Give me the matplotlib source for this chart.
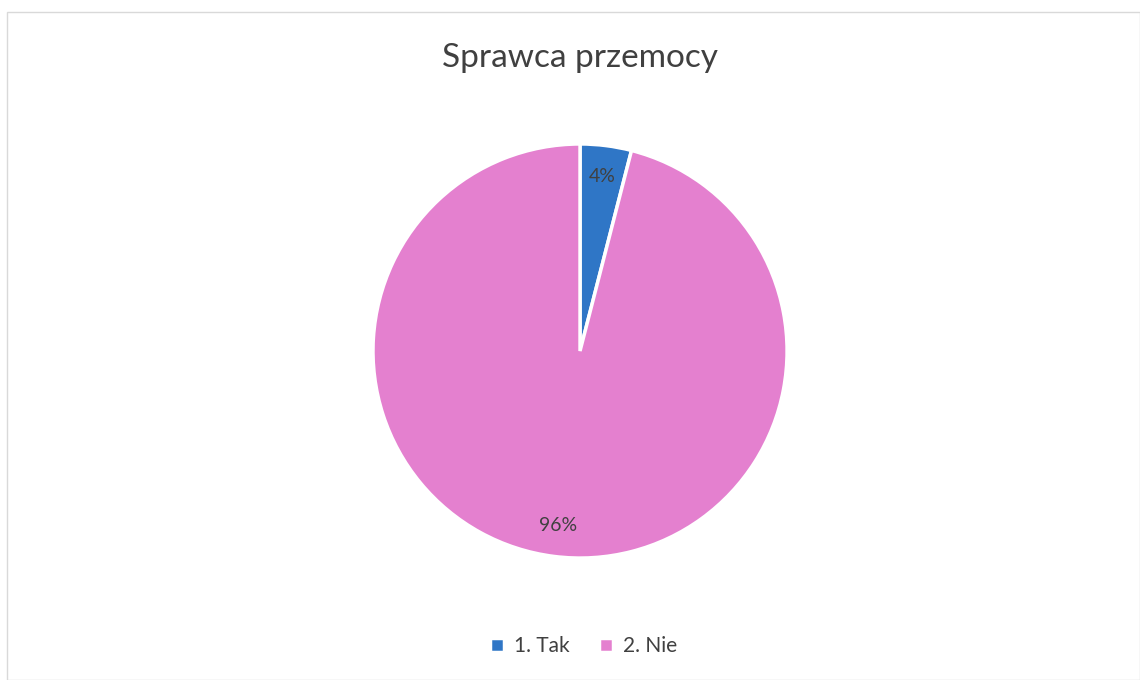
import matplotlib.pyplot as plt
from matplotlib.patches import Rectangle

labels = ['1. Tak', '2. Nie']
values = [4, 96]
colors = ['#2f76c6', '#e480cf']

plt.rcParams['font.family'] = ['Lato', 'DejaVu Sans']

fig = plt.figure(figsize=(11.4, 6.8), dpi=100)
fig.patch.set_facecolor('white')

# faint chart border
fig.patches.append(Rectangle((0.006, 0.0), 0.994, 0.982, transform=fig.transFigure,
                             fill=False, edgecolor='#d9d9d9', linewidth=1))

ax = fig.add_axes([0.5088 - 0.1798, 0.4838 - 0.3015, 0.3596, 0.603])
wedges, texts, autotexts = ax.pie(values, colors=colors, startangle=90, counterclock=False,
                                  autopct='%1.0f%%', pctdistance=0.85,
                                  wedgeprops=dict(edgecolor='white', linewidth=2.5),
                                  textprops=dict(fontsize=14, color='#404040'))
ax.set_xlim(-0.99, 0.99)
ax.set_ylim(-0.99, 0.99)
ax.set_aspect('equal')

fig.text(0.509, 0.915, 'Sprawca przemocy', ha='center', va='center', fontsize=24, color='#404040')

fig.legend(wedges, labels, loc='center', bbox_to_anchor=(0.512, 0.05), ncol=2, frameon=False,
           fontsize=15, handlelength=0.65, handleheight=0.65, handletextpad=0.5, columnspacing=1.4,
           labelcolor='#404040')

fig.savefig('out.png', dpi=100, facecolor='white')
